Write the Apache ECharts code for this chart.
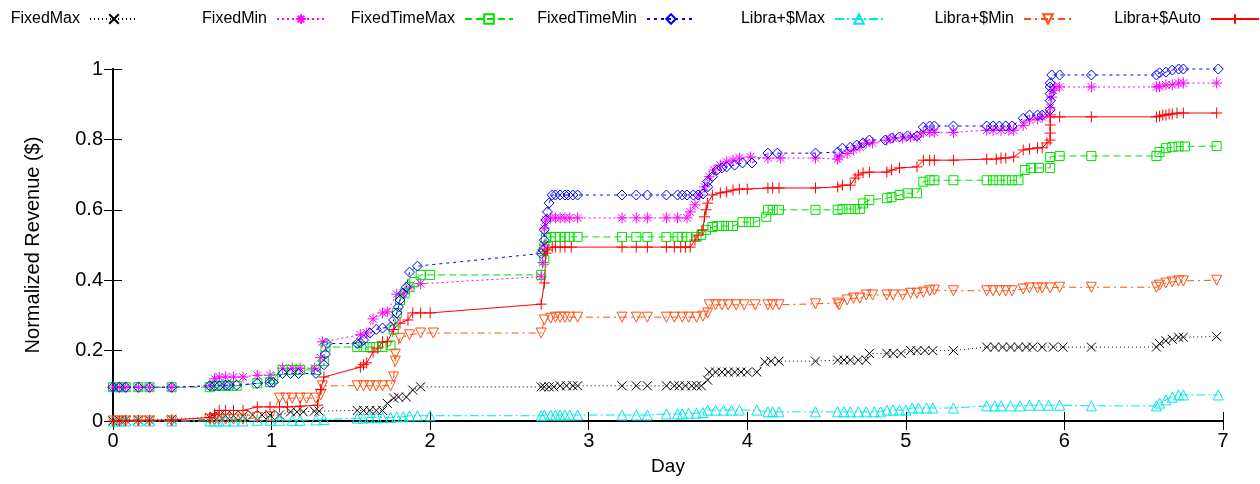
<!DOCTYPE html>
<html>
<head>
<meta charset="utf-8">
<script src="https://cdn.jsdelivr.net/npm/echarts@6/dist/echarts.min.js"></script>
<style>
  html, body { margin: 0; padding: 0; background: #fff; }
  #chart { width: 1260px; height: 484px; }
</style>
</head>
<body>
<div id="chart"></div>
<script>
// [day, normalized revenue]
var fixedMax = [[0,0],[0.04,0.002],[0.08,0.003],[0.16,0.003],[0.23,0.003],[0.37,0.005],[0.61,0.01],[0.64,0.012],[0.67,0.015],[0.71,0.015],[0.76,0.015],[0.82,0.015],[0.88,0.017],[0.94,0.017],[0.99,0.017],[1.05,0.017],[1.12,0.026],[1.16,0.026],[1.2,0.026],[1.27,0.028],[1.3,0.028],[1.54,0.03],[1.58,0.03],[1.62,0.03],[1.66,0.03],[1.7,0.03],[1.73,0.05],[1.77,0.065],[1.8,0.068],[1.85,0.068],[1.89,0.088],[1.94,0.097],[2.7,0.097],[2.72,0.097],[2.75,0.097],[2.78,0.097],[2.82,0.1],[2.86,0.1],[2.9,0.1],[2.93,0.1],[3.21,0.1],[3.3,0.1],[3.37,0.1],[3.49,0.1],[3.54,0.1],[3.57,0.1],[3.61,0.1],[3.65,0.1],[3.68,0.1],[3.71,0.1],[3.75,0.116],[3.76,0.139],[3.8,0.139],[3.84,0.139],[3.88,0.139],[3.92,0.139],[3.96,0.139],[4.0,0.139],[4.06,0.139],[4.11,0.168],[4.15,0.17],[4.2,0.17],[4.43,0.17],[4.57,0.173],[4.61,0.173],[4.65,0.173],[4.7,0.173],[4.75,0.173],[4.77,0.192],[4.88,0.192],[4.92,0.192],[4.97,0.192],[5.03,0.2],[5.07,0.2],[5.12,0.2],[5.17,0.2],[5.3,0.2],[5.51,0.21],[5.56,0.21],[5.61,0.21],[5.66,0.21],[5.71,0.21],[5.76,0.21],[5.8,0.21],[5.86,0.21],[5.93,0.21],[5.99,0.21],[6.17,0.21],[6.58,0.21],[6.6,0.22],[6.64,0.228],[6.68,0.232],[6.72,0.238],[6.75,0.238],[6.96,0.24]];

var fixedMin = [[0,0.096],[0.04,0.096],[0.08,0.096],[0.16,0.096],[0.23,0.096],[0.37,0.096],[0.61,0.1],[0.64,0.12],[0.67,0.125],[0.71,0.125],[0.76,0.125],[0.82,0.125],[0.91,0.13],[0.99,0.13],[1.07,0.15],[1.13,0.15],[1.18,0.15],[1.27,0.15],[1.31,0.18],[1.32,0.225],[1.56,0.245],[1.6,0.25],[1.64,0.29],[1.7,0.307],[1.73,0.31],[1.79,0.36],[1.83,0.363],[1.87,0.378],[1.94,0.39],[2.7,0.41],[2.71,0.45],[2.72,0.5],[2.72,0.548],[2.73,0.571],[2.76,0.577],[2.79,0.577],[2.82,0.577],[2.85,0.577],[2.88,0.577],[2.93,0.577],[3.21,0.577],[3.3,0.577],[3.37,0.577],[3.49,0.577],[3.56,0.577],[3.62,0.577],[3.64,0.594],[3.67,0.614],[3.7,0.642],[3.73,0.665],[3.76,0.694],[3.79,0.713],[3.83,0.727],[3.87,0.736],[3.91,0.741],[3.95,0.747],[4.02,0.75],[4.13,0.747],[4.21,0.747],[4.43,0.747],[4.57,0.744],[4.58,0.75],[4.63,0.76],[4.67,0.77],[4.71,0.778],[4.75,0.79],[4.79,0.79],[4.88,0.798],[4.92,0.804],[4.98,0.804],[5.03,0.807],[5.07,0.807],[5.11,0.82],[5.15,0.82],[5.18,0.82],[5.3,0.82],[5.51,0.826],[5.55,0.826],[5.6,0.826],[5.65,0.826],[5.68,0.826],[5.74,0.84],[5.78,0.855],[5.83,0.858],[5.86,0.864],[5.91,0.87],[5.91,0.89],[5.92,0.92],[5.93,0.94],[5.94,0.949],[5.97,0.949],[6.17,0.949],[6.58,0.949],[6.6,0.95],[6.64,0.955],[6.68,0.955],[6.72,0.96],[6.75,0.96],[6.96,0.96]];

var fixedTimeMax = [[0,0.096],[0.04,0.096],[0.08,0.096],[0.16,0.096],[0.23,0.096],[0.37,0.096],[0.61,0.096],[0.64,0.1],[0.67,0.1],[0.71,0.1],[0.73,0.1],[0.78,0.1],[0.91,0.107],[0.99,0.11],[1.01,0.12],[1.07,0.145],[1.13,0.145],[1.18,0.145],[1.28,0.145],[1.33,0.17],[1.34,0.21],[1.54,0.21],[1.58,0.21],[1.62,0.21],[1.66,0.21],[1.7,0.21],[1.75,0.215],[1.77,0.26],[1.79,0.307],[1.81,0.344],[1.84,0.363],[1.87,0.38],[1.9,0.395],[1.94,0.415],[2.0,0.415],[2.7,0.415],[2.72,0.457],[2.72,0.494],[2.73,0.52],[2.76,0.523],[2.79,0.523],[2.82,0.523],[2.85,0.523],[2.88,0.523],[2.93,0.523],[3.21,0.523],[3.3,0.523],[3.37,0.523],[3.49,0.523],[3.56,0.523],[3.59,0.523],[3.62,0.523],[3.68,0.523],[3.71,0.528],[3.74,0.543],[3.78,0.551],[3.81,0.554],[3.84,0.554],[3.88,0.554],[3.91,0.554],[3.97,0.565],[4.01,0.565],[4.05,0.565],[4.12,0.58],[4.13,0.6],[4.16,0.6],[4.2,0.6],[4.43,0.6],[4.57,0.6],[4.6,0.602],[4.64,0.602],[4.68,0.602],[4.71,0.602],[4.73,0.618],[4.77,0.628],[4.88,0.633],[4.91,0.636],[4.96,0.642],[5.01,0.647],[5.07,0.647],[5.11,0.68],[5.15,0.684],[5.18,0.684],[5.3,0.684],[5.51,0.684],[5.55,0.684],[5.59,0.684],[5.63,0.684],[5.67,0.684],[5.71,0.684],[5.75,0.713],[5.79,0.719],[5.84,0.719],[5.91,0.719],[5.91,0.75],[5.97,0.753],[6.17,0.753],[6.58,0.753],[6.6,0.764],[6.64,0.775],[6.68,0.778],[6.72,0.78],[6.76,0.78],[6.96,0.781]];

var fixedTimeMin = [[0,0.096],[0.04,0.096],[0.08,0.096],[0.16,0.096],[0.23,0.096],[0.37,0.096],[0.61,0.1],[0.64,0.1],[0.67,0.1],[0.71,0.102],[0.73,0.102],[0.78,0.102],[0.91,0.107],[0.99,0.11],[1.01,0.11],[1.07,0.135],[1.12,0.135],[1.17,0.135],[1.28,0.135],[1.33,0.16],[1.34,0.19],[1.35,0.22],[1.54,0.22],[1.56,0.222],[1.58,0.23],[1.62,0.25],[1.66,0.26],[1.7,0.264],[1.75,0.267],[1.77,0.287],[1.79,0.307],[1.8,0.324],[1.81,0.344],[1.83,0.363],[1.85,0.38],[1.87,0.423],[1.92,0.44],[2.7,0.476],[2.71,0.486],[2.72,0.514],[2.72,0.543],[2.73,0.571],[2.74,0.594],[2.75,0.619],[2.77,0.642],[2.79,0.642],[2.82,0.642],[2.85,0.642],[2.87,0.642],[2.9,0.642],[2.93,0.642],[3.21,0.642],[3.3,0.642],[3.37,0.642],[3.49,0.642],[3.56,0.642],[3.59,0.642],[3.62,0.642],[3.66,0.642],[3.69,0.642],[3.72,0.645],[3.75,0.665],[3.75,0.68],[3.78,0.694],[3.81,0.713],[3.84,0.719],[3.87,0.722],[3.92,0.727],[3.97,0.733],[4.03,0.733],[4.13,0.761],[4.19,0.761],[4.43,0.761],[4.57,0.764],[4.6,0.775],[4.65,0.778],[4.69,0.784],[4.73,0.79],[4.77,0.798],[4.87,0.798],[4.91,0.804],[4.96,0.807],[5.01,0.81],[5.07,0.81],[5.11,0.835],[5.15,0.838],[5.18,0.838],[5.3,0.838],[5.51,0.838],[5.55,0.838],[5.59,0.838],[5.63,0.838],[5.67,0.838],[5.74,0.86],[5.78,0.869],[5.83,0.869],[5.86,0.869],[5.91,0.884],[5.91,0.91],[5.91,0.93],[5.91,0.949],[5.91,0.96],[5.92,0.983],[5.97,0.983],[6.17,0.983],[6.58,0.983],[6.6,0.989],[6.64,0.991],[6.68,0.997],[6.72,1.0],[6.75,1.0],[6.97,1.0]];

var libraMax = [[0,0],[0.04,0],[0.08,0],[0.16,0],[0.23,0],[0.37,0],[0.61,0],[0.64,0],[0.67,0],[0.71,0],[0.76,0],[0.82,0],[0.91,0.002],[0.99,0.002],[1.05,0.002],[1.13,0.002],[1.18,0.002],[1.28,0.003],[1.33,0.004],[1.54,0.008],[1.58,0.008],[1.62,0.01],[1.66,0.01],[1.7,0.01],[1.75,0.01],[1.79,0.012],[1.83,0.012],[1.87,0.015],[1.92,0.015],[2.0,0.015],[2.7,0.015],[2.72,0.017],[2.76,0.017],[2.79,0.017],[2.82,0.017],[2.85,0.017],[2.88,0.017],[2.93,0.017],[3.21,0.017],[3.3,0.017],[3.37,0.017],[3.49,0.02],[3.56,0.02],[3.59,0.02],[3.63,0.022],[3.68,0.022],[3.72,0.024],[3.75,0.031],[3.8,0.031],[3.85,0.031],[3.9,0.031],[3.95,0.031],[4.06,0.031],[4.13,0.026],[4.16,0.026],[4.2,0.026],[4.43,0.026],[4.57,0.026],[4.61,0.026],[4.65,0.026],[4.7,0.026],[4.75,0.026],[4.8,0.026],[4.84,0.026],[4.88,0.031],[4.92,0.031],[4.96,0.031],[5.0,0.031],[5.04,0.037],[5.08,0.037],[5.13,0.037],[5.17,0.037],[5.3,0.037],[5.51,0.043],[5.56,0.043],[5.6,0.043],[5.66,0.043],[5.72,0.043],[5.78,0.045],[5.84,0.045],[5.9,0.045],[5.97,0.045],[6.17,0.043],[6.58,0.043],[6.6,0.051],[6.64,0.06],[6.68,0.068],[6.72,0.074],[6.75,0.074],[6.97,0.074]];

var libraMin = [[0,0],[0.04,0],[0.08,0],[0.16,0],[0.23,0],[0.37,0],[0.61,0.005],[0.64,0.005],[0.67,0.005],[0.71,0.005],[0.76,0.005],[0.82,0.005],[0.91,0.01],[0.99,0.012],[1.05,0.065],[1.09,0.065],[1.13,0.065],[1.18,0.065],[1.22,0.065],[1.28,0.065],[1.31,0.074],[1.32,0.1],[1.54,0.1],[1.58,0.1],[1.62,0.1],[1.66,0.1],[1.7,0.1],[1.75,0.1],[1.77,0.125],[1.78,0.17],[1.78,0.19],[1.81,0.235],[1.87,0.245],[1.94,0.25],[2.02,0.25],[2.7,0.25],[2.72,0.287],[2.76,0.292],[2.79,0.295],[2.82,0.295],[2.85,0.295],[2.88,0.295],[2.93,0.295],[3.21,0.295],[3.3,0.295],[3.37,0.295],[3.49,0.295],[3.54,0.295],[3.59,0.295],[3.63,0.295],[3.68,0.295],[3.72,0.298],[3.75,0.307],[3.76,0.33],[3.8,0.33],[3.84,0.33],[3.88,0.33],[3.93,0.33],[3.98,0.33],[4.05,0.33],[4.13,0.33],[4.16,0.33],[4.2,0.33],[4.43,0.333],[4.57,0.335],[4.58,0.33],[4.63,0.344],[4.67,0.349],[4.71,0.349],[4.75,0.358],[4.79,0.358],[4.88,0.358],[4.92,0.358],[4.98,0.358],[5.03,0.363],[5.07,0.363],[5.11,0.366],[5.15,0.37],[5.18,0.372],[5.3,0.37],[5.51,0.37],[5.55,0.37],[5.59,0.37],[5.63,0.37],[5.67,0.37],[5.74,0.375],[5.78,0.378],[5.83,0.378],[5.86,0.378],[5.91,0.378],[5.97,0.38],[6.17,0.38],[6.58,0.38],[6.6,0.386],[6.64,0.392],[6.68,0.395],[6.72,0.398],[6.75,0.398],[6.96,0.4]];

var libraAuto = [[0,0],[0.04,0],[0.08,0.002],[0.16,0.002],[0.23,0.002],[0.37,0.003],[0.61,0.01],[0.64,0.02],[0.67,0.03],[0.71,0.03],[0.76,0.03],[0.82,0.03],[0.91,0.04],[0.99,0.04],[1.05,0.04],[1.1,0.04],[1.18,0.042],[1.29,0.045],[1.31,0.09],[1.33,0.125],[1.56,0.153],[1.58,0.16],[1.6,0.165],[1.64,0.196],[1.67,0.207],[1.7,0.225],[1.73,0.225],[1.77,0.26],[1.81,0.278],[1.86,0.287],[1.89,0.307],[1.94,0.307],[2.0,0.307],[2.7,0.332],[2.72,0.392],[2.73,0.477],[2.74,0.486],[2.77,0.494],[2.79,0.494],[2.82,0.494],[2.85,0.494],[2.89,0.494],[3.21,0.494],[3.3,0.494],[3.37,0.494],[3.49,0.494],[3.54,0.494],[3.58,0.494],[3.61,0.494],[3.64,0.494],[3.67,0.514],[3.69,0.528],[3.72,0.543],[3.73,0.58],[3.74,0.6],[3.75,0.619],[3.78,0.642],[3.83,0.648],[3.87,0.651],[3.91,0.656],[3.95,0.659],[4.0,0.659],[4.13,0.662],[4.16,0.662],[4.2,0.662],[4.43,0.662],[4.57,0.665],[4.6,0.67],[4.65,0.67],[4.68,0.69],[4.7,0.699],[4.73,0.705],[4.77,0.707],[4.88,0.707],[4.91,0.713],[4.96,0.719],[5.07,0.722],[5.11,0.741],[5.15,0.741],[5.18,0.741],[5.3,0.741],[5.51,0.744],[5.57,0.744],[5.6,0.747],[5.63,0.747],[5.68,0.75],[5.74,0.77],[5.78,0.773],[5.83,0.776],[5.86,0.776],[5.89,0.79],[5.91,0.798],[5.91,0.818],[5.91,0.841],[5.91,0.864],[5.97,0.864],[6.17,0.864],[6.58,0.864],[6.6,0.866],[6.62,0.869],[6.64,0.869],[6.66,0.872],[6.68,0.872],[6.71,0.875],[6.75,0.875],[6.96,0.875]];

var seriesNames = ["FixedMax", "FixedMin", "FixedTimeMax", "FixedTimeMin", "Libra+$Max", "Libra+$Min", "Libra+$Auto"];
var seriesData = [fixedMax, fixedMin, fixedTimeMax, fixedTimeMin, libraMax, libraMin, libraAuto];

// gnuplot-like look for each series, in the same order
var looks = [
  { color: "#000000", dash: [1, 3], size: 9, symbol: "path://M0,0L10,10M10,0L0,10" },
  { color: "#ff00ff", dash: [2, 3], size: 11, symbol: "path://M5,0L5,10M0,5L10,5M1.5,1.5L8.5,8.5M8.5,1.5L1.5,8.5" },
  { color: "#00e000", dash: [7, 4], size: 9, symbol: "rect" },
  { color: "#0000ff", dash: [3, 4], size: 10, symbol: "diamond" },
  { color: "#00e8e8", dash: [9, 3, 2, 3], size: 10, symbol: "path://M5,0L10,9L0,9Z" },
  { color: "#ff5010", dash: [7, 4, 2, 4], size: 10, symbol: "path://M0,0L10,0L5,9Z" },
  { color: "#ff0000", dash: "solid", size: 11, symbol: "path://M5,0L5,10M0,5L10,5" }
];

// right edge of each key sample, from the picture
var keyRight = [1121, 934, 746, 564, 376, 187, 0];

var font = "Liberation Sans, Arial, sans-serif";
var chart = echarts.init(document.getElementById("chart"));

var legends = seriesNames.map(function (name, i) {
  return {
    data: [name],
    right: keyRight[i],
    top: 11,
    padding: 0,
    align: "right",
    itemWidth: 48,
    itemHeight: 12,
    selectedMode: false,
    textStyle: { fontFamily: font, fontSize: 16, color: "#000", padding: [0, 5, 0, 0] }
  };
});

var series = seriesNames.map(function (name, i) {
  var s = looks[i];
  return {
    name: name,
    type: "line",
    data: seriesData[i],
    symbol: s.symbol,
    symbolSize: s.size,
    clip: false,
    itemStyle: { color: "rgba(0,0,0,0)", borderColor: s.color, borderWidth: 1 },
    lineStyle: { color: s.color, width: 1, type: s.dash },
    emphasis: { disabled: true }
  };
});

function axisBase(extra) {
  var a = {
    type: "value",
    axisLine: { show: true, lineStyle: { color: "#000", width: 2 } },
    axisTick: { show: true, inside: true, length: 9, lineStyle: { color: "#000", width: 1 } },
    splitLine: { show: false },
    axisLabel: { show: false }
  };
  for (var k in extra) a[k] = extra[k];
  return a;
}

chart.setOption({
  animation: false,
  backgroundColor: "#fff",
  legend: legends,
  grid: { left: 113, right: 37, top: 69, bottom: 63 },
  xAxis: [
    axisBase({
      min: 0, max: 7, interval: 1,
      name: "Day", nameLocation: "middle", nameGap: 36,
      nameTextStyle: { fontFamily: font, fontSize: 19, color: "#000" },
      axisLabel: { show: true, fontFamily: font, fontSize: 20, color: "#000", margin: 10 }
    }),
    axisBase({ min: 0, max: 7, interval: 1, position: "top" })
  ],
  yAxis: [
    axisBase({
      min: 0, max: 1, interval: 0.2,
      name: "Normalized Revenue ($)", nameLocation: "middle", nameGap: 70,
      nameTextStyle: { fontFamily: font, fontSize: 20, color: "#000" },
      axisLabel: { show: true, fontFamily: font, fontSize: 20, color: "#000", margin: 10 }
    }),
    axisBase({ min: 0, max: 1, interval: 0.2, position: "right" })
  ],
  series: series
});
</script>
</body>
</html>
